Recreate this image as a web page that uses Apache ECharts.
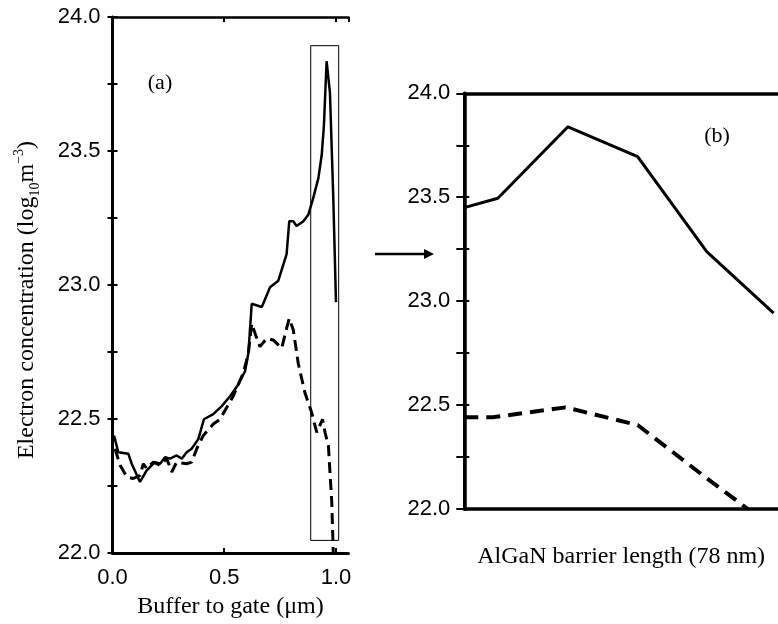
<!DOCTYPE html>
<html>
<head>
<meta charset="utf-8">
<script src="https://cdn.jsdelivr.net/npm/echarts@6/dist/echarts.min.js"></script>
<style>html,body{margin:0;padding:0;background:#fff}#c{width:778px;height:624px}</style>
</head>
<body>
<div id="c"></div>
<script>
// Panel (a): buffer to gate position (µm) vs electron concentration (log10 m^-3)
const aSolidX = [0.007,0.026,0.071,0.086,0.123,0.153,0.190,0.213,0.235,0.258,0.287,0.310,0.332,0.354,0.384,0.409,0.451,0.489,0.526,0.563,0.593,0.608,0.623,0.630,0.668,0.705,0.742,0.779,0.791,0.809,0.824,0.854,0.876,0.898,0.921,0.936,0.946,0.958,0.973,0.988,1.000];
const aSolidY = [22.438,22.376,22.370,22.333,22.265,22.308,22.339,22.333,22.357,22.352,22.364,22.352,22.376,22.389,22.425,22.499,22.518,22.548,22.585,22.629,22.678,22.745,22.930,22.936,22.918,22.992,23.016,23.115,23.238,23.238,23.220,23.238,23.262,23.324,23.398,23.484,23.595,23.835,23.718,23.324,22.936];
const aDashX = [0.011,0.034,0.064,0.093,0.123,0.138,0.153,0.183,0.213,0.243,0.265,0.287,0.332,0.354,0.377,0.406,0.451,0.481,0.540,0.585,0.608,0.623,0.638,0.660,0.690,0.719,0.757,0.779,0.791,0.809,0.831,0.861,0.891,0.914,0.940,0.951,0.966,0.981,0.988];
const aDashY = [22.389,22.327,22.284,22.278,22.290,22.333,22.315,22.339,22.327,22.352,22.302,22.339,22.333,22.339,22.389,22.438,22.481,22.499,22.585,22.671,22.745,22.856,22.819,22.770,22.801,22.795,22.764,22.838,22.875,22.832,22.708,22.598,22.524,22.450,22.499,22.450,22.401,22.191,21.998];
const boxX = [0.887, 1.012];
const boxY = [22.047, 23.893];

// Panel (b): AlGaN barrier (nm)
const bSolidX = [0, 8.45, 26.1, 43.65, 61.05, 77.9];
const bSolidY = [23.450, 23.495, 23.839, 23.695, 23.238, 22.942];
const bDashX = [0, 7.2, 25.5, 43.65, 61.05, 71.4];
const bDashY = [22.441, 22.441, 22.489, 22.404, 22.148, 22.0];

const yTicks = ['22.0','22.5','23.0','23.5','24.0'];
const aXTicks = ['0.0','0.5','1.0'];

const SANS = '"Liberation Sans", Arial, sans-serif';
const SERIF = '"Liberation Serif", "Times New Roman", serif';

function zip(xs, ys){ return xs.map((x,i)=>[x, ys[i]]); }

const yCommon = {
  type:'value', min:22, max:24, interval:0.25,
  splitLine:{show:false},
  axisTick:{show:true, inside:true, length:5, lineStyle:{color:'#000', width:2}}
};
const yFmt = v=>{const s=v.toFixed(1); return (Math.abs(v*2-Math.round(v*2))<1e-6 && yTicks.includes(s))?s:'';};

const chart = echarts.init(document.getElementById('c'), null, {renderer:'canvas'});
chart.setOption({
  animation:false,
  backgroundColor:'#fff',
  grid:[
    {left:112.5, top:17, width:236, height:541.5},
    {left:464.3, top:93.3, width:318, height:415.7}
  ],
  xAxis:[
    {type:'value', gridIndex:0, min:0, max:1.056, interval:0.5,
     splitLine:{show:false},
     axisLine:{lineStyle:{color:'#000', width:3}},
     axisTick:{inside:true, length:5, lineStyle:{color:'#000', width:2}},
     axisLabel:{color:'#000', fontFamily:SANS, fontSize:22, margin:14, showMaxLabel:false,
       formatter:v=>{const s=v.toFixed(1); return aXTicks.includes(s)?s:'';}},
     name:'Buffer to gate (\u03bcm)', nameLocation:'middle', nameGap:42,
     nameTextStyle:{color:'#000', fontFamily:SERIF, fontSize:24}},
    {type:'value', gridIndex:0, position:'top', min:0, max:1.056, interval:0.5,
     splitLine:{show:false},
     axisLine:{lineStyle:{color:'#000', width:2.5}},
     axisTick:{inside:true, length:5, lineStyle:{color:'#000', width:2}},
     axisLabel:{show:false}},
    {type:'value', gridIndex:1, min:0, max:79,
     splitLine:{show:false},
     axisLine:{lineStyle:{color:'#000', width:3.5}},
     axisTick:{show:false}, axisLabel:{show:false},
     name:'AlGaN barrier length (78 nm)', nameLocation:'middle', nameGap:36,
     nameTextStyle:{color:'#000', fontFamily:SERIF, fontSize:24}},
    {type:'value', gridIndex:1, position:'top', min:0, max:79,
     splitLine:{show:false},
     axisLine:{lineStyle:{color:'#000', width:3.5}},
     axisTick:{show:false}, axisLabel:{show:false}}
  ],
  yAxis:[
    Object.assign({}, yCommon, {gridIndex:0, position:'left',
      axisLine:{show:true, lineStyle:{color:'#000', width:3}},
      axisLabel:{color:'#000', fontFamily:SANS, fontSize:22, margin:12, formatter:yFmt}}),
    Object.assign({}, yCommon, {gridIndex:0, position:'right',
      axisLine:{show:true, lineStyle:{color:'#000', width:2.5}},
      axisLabel:{show:false}}),
    Object.assign({}, yCommon, {gridIndex:1, position:'left',
      axisLine:{show:true, lineStyle:{color:'#000', width:3.5}},
      axisLabel:{color:'#000', fontFamily:SANS, fontSize:22, margin:14, formatter:yFmt}}),
    Object.assign({}, yCommon, {gridIndex:1, position:'right',
      axisTick:{show:true, inside:true, length:8, lineStyle:{color:'#000', width:2}},
      axisLine:{show:true, lineStyle:{color:'#000', width:3}},
      axisLabel:{show:false}})
  ],
  series:[
    {type:'line', xAxisIndex:0, yAxisIndex:0, data:zip(aSolidX, aSolidY), symbol:'none',
     lineStyle:{color:'#000', width:2.5}, clip:true,
     markArea:{silent:true, itemStyle:{color:'rgba(0,0,0,0)', borderColor:'#000', borderWidth:1},
       data:[[{coord:[boxX[0], boxY[1]]},{coord:[boxX[1], boxY[0]]}]]}},
    {type:'line', xAxisIndex:0, yAxisIndex:0, data:zip(aDashX, aDashY), symbol:'none',
     lineStyle:{color:'#000', width:3, type:[11,6]}, clip:true},
    {type:'line', xAxisIndex:2, yAxisIndex:2, data:zip(bSolidX, bSolidY), symbol:'none',
     lineStyle:{color:'#000', width:3}, clip:true},
    {type:'line', xAxisIndex:2, yAxisIndex:2, data:zip(bDashX, bDashY), symbol:'none',
     lineStyle:{color:'#000', width:4, type:[14,8]}, clip:true}
  ],
  graphic:[
    {type:'text', x:27, y:300, rotation:Math.PI/2,
     style:{text:'{n|Electron concentration (log}{s|10}{n|m}{p|\u22123}{n|)}',
       align:'center', verticalAlign:'middle', fill:'#000',
       rich:{
         n:{fontFamily:SERIF, fontSize:24, lineHeight:30, verticalAlign:'middle', fill:'#000'},
         s:{fontFamily:SERIF, fontSize:14, lineHeight:14, verticalAlign:'bottom', fill:'#000'},
         p:{fontFamily:SERIF, fontSize:14, lineHeight:14, verticalAlign:'top', fill:'#000'}
       }}},
    {type:'text', x:160, y:83, style:{text:'(a)', font:'22px '+SERIF, fill:'#000', align:'center', verticalAlign:'middle'}},
    {type:'text', x:717, y:136, style:{text:'(b)', font:'22px '+SERIF, fill:'#000', align:'center', verticalAlign:'middle'}},
    {type:'line', shape:{x1:375, y1:254, x2:426, y2:254}, style:{stroke:'#000', lineWidth:2.5}},
    {type:'polygon', shape:{points:[[424,249],[434,254],[424,259]]}, style:{fill:'#000'}}
  ]
});
</script>
</body>
</html>
